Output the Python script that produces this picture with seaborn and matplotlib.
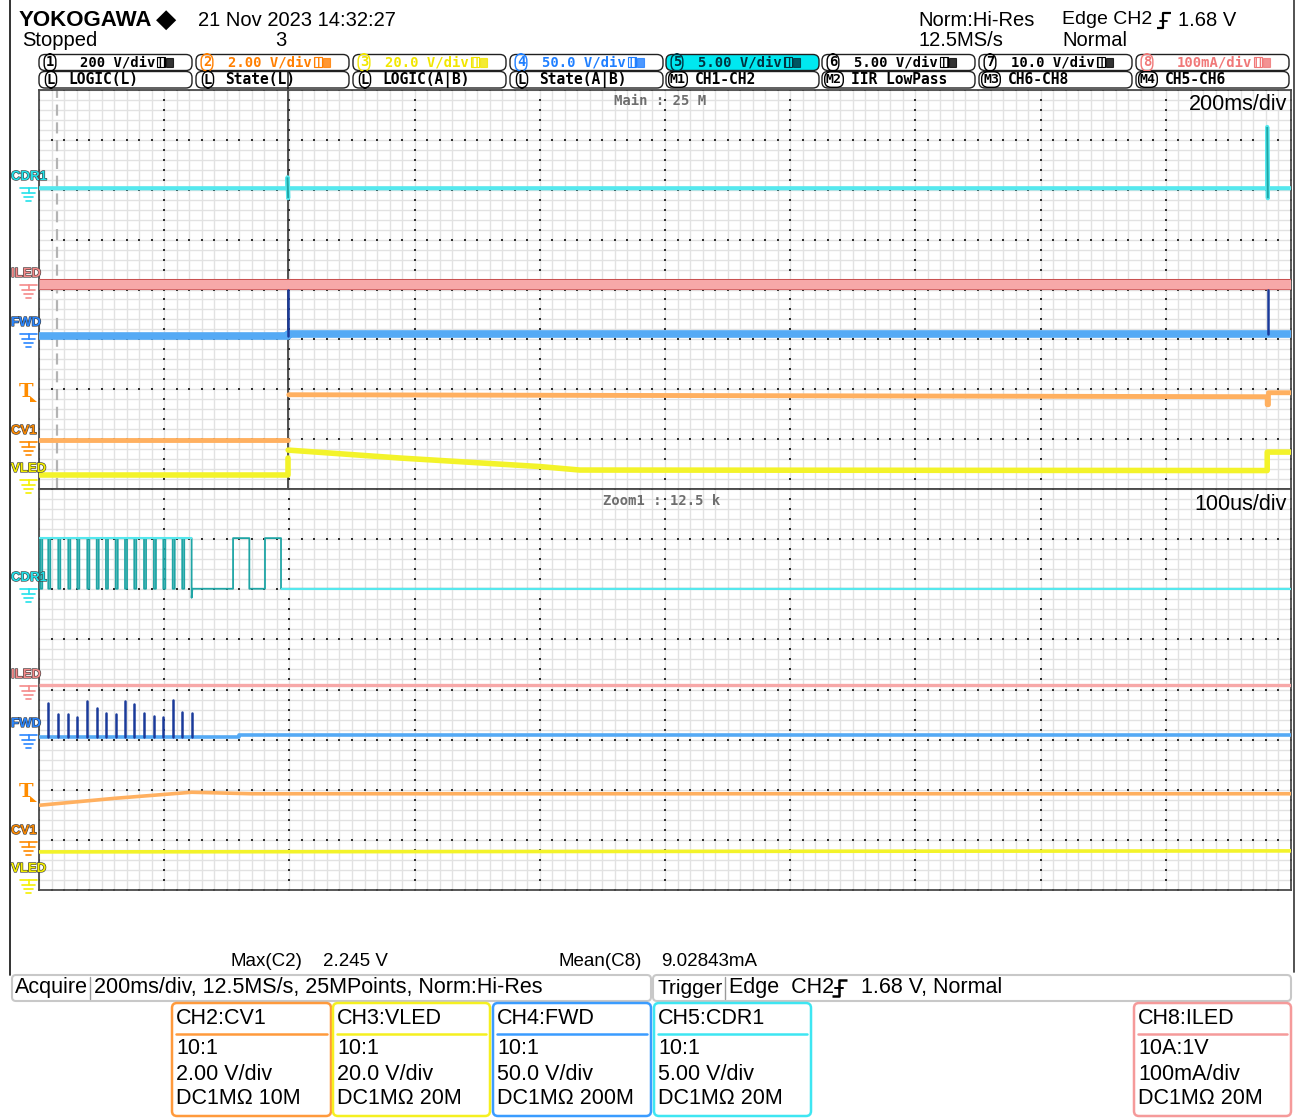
import numpy as np
import pandas as pd
import matplotlib
matplotlib.use("Agg")
import matplotlib.pyplot as plt
import matplotlib.patheffects as pe
from matplotlib.patches import FancyBboxPatch, Rectangle, Polygon
import seaborn as sns

sns.set_style("white")
plt.rcParams["font.family"] = ["Liberation Sans", "DejaVu Sans"]

W, H = 1297, 1118

# ---------------- data: time (ms / us) and vertical position (div) ----------------
# main window, 200 ms/div
main_cdr1_t = [0, 397, 397, 398, 398, 1962, 1962, 1963, 1963, 2000]
main_cdr1_v = [2.03, 2.03, 2.25, 1.83, 2.03, 2.03, 3.26, 1.83, 2.03, 2.03]
main_iled_t = [0, 2000]
main_iled_v = [0.12, 0.12]
main_fwd_t = [0, 398, 398, 2000]
main_fwd_v = [-0.94, -0.94, -0.90, -0.90]
main_fwd_edge_t = [398, 398, 1963, 1963]
main_fwd_edge_v = [-0.02, -0.94, -0.02, -0.90]
main_fwd_edge_seg = [0, 0, 1, 1]
main_cv1_t = [0, 397, 399, 1962, 1962, 1964, 1964, 2000]
main_cv1_v = [-3.02, -3.02, -2.11, -2.15, -2.31, -2.31, -2.07, -2.07]
main_cv1_seg = [0, 0, 1, 1, 1, 1, 1, 1]
main_vled_t = [0, 398, 398, 398, 578, 800, 864, 1962, 1962, 2000]
main_vled_v = [-3.72, -3.72, -3.38, -3.22, -3.38, -3.55, -3.62, -3.63, -3.26, -3.26]
main_vled_seg = [0, 0, 0, 1, 1, 1, 1, 1, 1, 1]
zoom_marker_ms = 29
trigger_ms = 398

# zoom window, 100 us/div
zoom_cdr1_high = 3.02
zoom_cdr1_low = 2.01
zoom_cdr1_dip_width = 1.6
zoom_cdr1_dips = [1.0, 7.4, 15.4, 23.4, 30.6, 38.6, 46.1, 53.5, 61.3, 68.7,
                  76.1, 83.9, 91.8, 99.3, 106.8, 114.4]
zoom_cdr1_fall = 121.9
zoom_cdr1_fall_min = 1.83
zoom_cdr1_pulses = [(155.0, 168.0), (180.5, 193.3)]
zoom_iled_t = [0, 1000]
zoom_iled_v = [0.09, 0.09]
zoom_fwd_t = [0, 160, 160, 1000]
zoom_fwd_v = [-0.95, -0.95, -0.91, -0.91]
zoom_fwd_spike_t = [7.4, 15.4, 23.4, 30.6, 38.6, 46.1, 53.5, 61.3, 68.7, 76.1,
                    83.9, 91.8, 99.3, 106.8, 114.4, 121.9]
zoom_fwd_spike_v = [-0.27, -0.49, -0.49, -0.55, -0.23, -0.37, -0.47, -0.49, -0.23,
                    -0.29, -0.47, -0.53, -0.55, -0.21, -0.45, -0.47]
zoom_cv1_t = [0, 61, 121.9, 170, 1000]
zoom_cv1_v = [-2.31, -2.17, -2.05, -2.08, -2.08]
zoom_vled_t = [0, 500, 1000]
zoom_vled_v = [-3.24, -3.23, -3.22]

# text content
badge_row1 = [("1", "200 V/div", "black"), ("2", "2.00 V/div", "#ff7f00"),
              ("3", "20.0 V/div", "#f2e600"), ("4", "50.0 V/div", "#1f7fff"),
              ("5", "5.00 V/div", "#00323f"), ("6", "5.00 V/div", "black"),
              ("7", "10.0 V/div", "black"), ("8", "100mA/div", "#f07878")]
badge_row2 = [("L", "LOGIC(L)"), ("L", "State(L)"), ("L", "LOGIC(A|B)"),
              ("L", "State(A|B)"), ("M1", "CH1-CH2"), ("M2", "IIR LowPass"),
              ("M3", "CH6-CH8"), ("M4", "CH5-CH6")]
ch_boxes = [("CH2:CV1", ["10:1", "2.00 V/div", "DC1M\u03a9 10M"], "#ff9a3c"),
            ("CH3:VLED", ["10:1", "20.0 V/div", "DC1M\u03a9 20M"], "#f5f020"),
            ("CH4:FWD", ["10:1", "50.0 V/div", "DC1M\u03a9 200M"], "#3a9cff"),
            ("CH5:CDR1", ["10:1", "5.00 V/div", "DC1M\u03a9 20M"], "#3ee6f2"),
            ("CH8:ILED", ["10A:1V", "100mA/div", "DC1M\u03a9 20M"], "#f59a9a")]

C_CDR1, C_CDR1_D = "#55e8ee", "#1fa5a5"
C_ILED, C_ILED_D = "#f7a8a8", "#c85050"
C_FWD, C_FWD_D = "#55aaf5", "#1a3a9a"
C_CV1 = "#ffb060"
C_VLED = "#f3f32a"

fig = plt.figure(figsize=(W / 100, H / 100), dpi=100)


def panel(y0, y1, xmax):
    ax = fig.add_axes([39 / W, 1 - y1 / H, (1291 - 39) / W, (y1 - y0) / H])
    ax.set_xlim(0, xmax)
    ax.set_ylim(-4, 4)
    ax.set_xticks([])
    ax.set_yticks([])
    ax.set_xticks(np.linspace(0, xmax, 101), minor=True)
    ax.set_yticks(np.linspace(-4, 4, 41), minor=True)
    ax.tick_params(which="both", length=0, labelbottom=False, labelleft=False)
    ax.grid(which="minor", color="#e2e2e2", lw=1)
    xm, ym = np.meshgrid(np.linspace(0, xmax, 11), np.linspace(-4, 4, 41))
    ax.scatter(xm.ravel(), ym.ravel(), s=1.6, marker="s", color="#303030", lw=0, zorder=1.5)
    xm, ym = np.meshgrid(np.linspace(0, xmax, 101), np.linspace(-4, 4, 9))
    ax.scatter(xm.ravel(), ym.ravel(), s=1.6, marker="s", color="#303030", lw=0, zorder=1.5)
    for s in ax.spines.values():
        s.set_color("#4a4a4a")
        s.set_linewidth(1.3)
    return ax


def trace(ax, t, v, color, lw, units=None, z=3):
    if units is None:
        sns.lineplot(x=t, y=v, ax=ax, color=color, linewidth=lw, estimator=None,
                     sort=False, legend=False, zorder=z, solid_capstyle="butt")
    else:
        df = pd.DataFrame({"t": t, "v": v, "u": units})
        sns.lineplot(data=df, x="t", y="v", units="u", ax=ax, color=color, linewidth=lw,
                     estimator=None, sort=False, legend=False, zorder=z)
    ax.set_xlabel("")
    ax.set_ylabel("")


# ---------------- main panel ----------------
ax_m = panel(90, 489, 2000)
ax_m.axvline(zoom_marker_ms, color="#b4b4b4", lw=1.6, ls=(0, (5, 3)), zorder=2)
ax_m.axvline(trigger_ms, ymin=0, ymax=1.045, color="#333333", lw=1.2, zorder=2, clip_on=False)
trace(ax_m, main_iled_t, main_iled_v, C_ILED, 8)
trace(ax_m, main_iled_t, [v + 0.1 for v in main_iled_v], C_ILED_D, 0.7)
trace(ax_m, main_iled_t, [v - 0.1 for v in main_iled_v], C_ILED_D, 0.5)
trace(ax_m, main_fwd_t, main_fwd_v, C_FWD, 5.5)
trace(ax_m, main_fwd_edge_t, main_fwd_edge_v, C_FWD_D, 1.8, units=main_fwd_edge_seg)
trace(ax_m, main_cdr1_t, main_cdr1_v, C_CDR1, 3)
trace(ax_m, main_cdr1_t[2:4], main_cdr1_v[2:4], C_CDR1_D, 1.4)
trace(ax_m, main_cdr1_t[6:8], main_cdr1_v[6:8], C_CDR1_D, 1.4)
trace(ax_m, main_cv1_t, main_cv1_v, C_CV1, 3.5, units=main_cv1_seg)
trace(ax_m, main_vled_t, main_vled_v, C_VLED, 4, units=main_vled_seg)

# ---------------- zoom panel ----------------
ax_z = panel(489, 890, 1000)
cdr_t, cdr_v = [0], [zoom_cdr1_high]
for d in zoom_cdr1_dips:
    cdr_t += [d, d, d + zoom_cdr1_dip_width, d + zoom_cdr1_dip_width]
    cdr_v += [zoom_cdr1_high, zoom_cdr1_low, zoom_cdr1_low, zoom_cdr1_high]
cdr_t += [zoom_cdr1_fall, zoom_cdr1_fall, zoom_cdr1_fall + 0.6]
cdr_v += [zoom_cdr1_high, zoom_cdr1_fall_min, zoom_cdr1_low]
for a, b in zoom_cdr1_pulses:
    cdr_t += [a, a, b, b]
    cdr_v += [zoom_cdr1_low, zoom_cdr1_high, zoom_cdr1_high, zoom_cdr1_low]
cdr_t += [1000]
cdr_v += [zoom_cdr1_low]
trace(ax_z, zoom_iled_t, zoom_iled_v, C_ILED, 2.4)
fwd_t, fwd_v, fwd_u = [], [], []
for i, (t, v) in enumerate(zip(zoom_fwd_spike_t, zoom_fwd_spike_v)):
    fwd_t += [t, t]
    fwd_v += [zoom_fwd_v[0], v]
    fwd_u += [i, i]
trace(ax_z, zoom_fwd_t, zoom_fwd_v, C_FWD, 2.6)
trace(ax_z, fwd_t, fwd_v, C_FWD_D, 1.8, units=fwd_u)
trace(ax_z, cdr_t, cdr_v, C_CDR1_D, 1.3)
trace(ax_z, [0, zoom_cdr1_fall], [zoom_cdr1_high] * 2, C_CDR1, 1.5)
trace(ax_z, [zoom_cdr1_pulses[-1][1], 1000], [zoom_cdr1_low] * 2, C_CDR1, 1.5)
trace(ax_z, zoom_cv1_t, zoom_cv1_v, C_CV1, 2.6)
trace(ax_z, zoom_vled_t, zoom_vled_v, C_VLED, 2.6)

# ---------------- overlay (pixel coordinates) ----------------
bg = fig.add_axes([0, 0, 1, 1], zorder=5)
bg.set_xlim(0, W)
bg.set_ylim(H, 0)
bg.axis("off")


def put(x, y, s, size, color="black", ha="left", va="center", **kw):
    bg.text(x, y, s, fontsize=size, color=color, ha=ha, va=va, **kw)


def rbox(x0, y0, x1, y1, ec, lw=1.2, fc="none", r=5):
    bg.add_patch(FancyBboxPatch((x0, y0), x1 - x0, y1 - y0,
                                boxstyle=f"round,pad=0,rounding_size={r}",
                                ec=ec, fc=fc, lw=lw))


def edge_sym(x, ytop, h, w, lw=1.6):
    bg.plot([x, x + w * 0.45, x + w * 0.45, x + w], [ytop + h, ytop + h, ytop, ytop],
            color="black", lw=lw, solid_capstyle="butt")
    bg.plot([x + w * 0.2, x + w * 0.7], [ytop + h * 0.5] * 2, color="black", lw=lw * 0.8)


# outer frame lines
bg.plot([10, 10], [0, 975], color="#222222", lw=1.3)
bg.plot([1294, 1294], [0, 972], color="#444444", lw=1.3)

# header
put(19, 21, "YOKOGAWA", 16, weight="bold")
put(156, 20, "\u25c6", 19, family="DejaVu Sans")
put(198, 20, "21 Nov 2023 14:32:27", 14.5)
put(22, 41, "Stopped", 14.5)
put(281, 41, "3", 14.5, ha="center")
put(918, 20, "Norm:Hi-Res", 14.5)
put(918, 41, "12.5MS/s", 14.5)
put(1062, 20, "Edge CH2", 14)
edge_sym(1157, 13, 15, 14)
put(1178, 20, "1.68 V", 14.5)
put(1062, 41, "Normal", 14.5)

# channel badges
mono = "DejaVu Sans Mono"
for i, x0 in enumerate([38, 195, 352, 509, 665, 821, 978, 1135]):
    num, txt, col = badge_row1[i]
    rbox(x0 + 1, 54.5, x0 + 154, 70.5, "#202020", lw=1.0,
         fc="#00e8f0" if num == "5" else "white", r=6)
    bg.text(x0 + 12, 62.5, num, fontsize=10, color=col, family=mono, weight="bold",
            ha="center", va="center",
            bbox=dict(boxstyle="round,pad=0.12,rounding_size=0.5", fc="none", ec=col, lw=1))
    put(x0 + 117, 62.5, txt, 10, color=col, ha="right", family=mono, weight="bold")
    bg.add_patch(Rectangle((x0 + 119, 57), 8, 10, fc="none", ec=col, lw=0.8, hatch="||||"))
    bg.add_patch(Rectangle((x0 + 128, 58), 7, 9, fc=col, ec=col, lw=0.8, alpha=0.8))
    lab, txt2 = badge_row2[i]
    rbox(x0 + 1, 71.5, x0 + 154, 88, "#202020", lw=1.0, r=6)
    bg.text(x0 + 13, 79.5, lab, fontsize=9.5 if len(lab) > 1 else 10, color="black",
            family=mono, weight="bold", ha="center", va="center",
            bbox=dict(boxstyle="round,pad=0.1,rounding_size=0.5", fc="none", ec="black", lw=1))
    put(x0 + 30, 79.5, txt2, 10.5, family=mono, weight="bold")

# panel captions
put(660, 101, "Main : 25 M", 10, color="#6e6e6e", ha="center", family=mono, weight="bold")
put(662, 501, "Zoom1 : 12.5 k", 10, color="#6e6e6e", ha="center", family=mono, weight="bold")
put(1287, 104, "200ms/div", 15.5, ha="right")
put(1287, 505, "100us/div", 15.5, ha="right")


def ground(y, color):
    for dy, a, b in [(0, 20, 37), (5, 22, 35), (9, 24, 33), (13, 26, 31)]:
        bg.plot([a, b], [y + dy, y + dy], color=color, lw=1.2)
    bg.plot([28.5, 28.5], [y, y + 5], color=color, lw=1.2)


outline = [pe.withStroke(linewidth=0.9, foreground="#404040")]
for off in (0, 400):
    for name, y, col in [("CDR1", 177, "#22e2ea"), ("ILED", 274, "#f58a8a"),
                         ("FWD", 323, "#2a86ff"), ("CV1", 431, "#ff8a00"),
                         ("VLED", 469, "#f5f000")]:
        yy = y + off + (1 if name in ("CDR1", "ILED", "FWD") and off else 0)
        put(11, yy, name, 9.5, color=col, weight="bold", path_effects=outline)
        ground(yy + 11, col)
    ty = 392 + off
    put(26, ty, "T", 14, color="#ff8c00", weight="bold", ha="center", family="DejaVu Serif")
    bg.add_patch(Polygon([(30, ty + 4), (30, ty + 10), (37, ty + 10)], closed=True,
                         fc="#ff8c00", ec="none"))

# measurements
put(230, 961, "Max(C2)", 13.5)
put(323, 961, "2.245 V", 13.5)
put(559, 961, "Mean(C8)", 13.5)
put(661, 961, "9.02843mA", 13.5)

# acquire / trigger bars
rbox(12, 975, 651, 1001, "#c8c8c8", lw=1.5, r=4)
rbox(653, 975, 1291, 1001, "#c8c8c8", lw=1.5, r=4)
bg.plot([90, 90], [977, 999], color="#9a9a9a", lw=1)
bg.plot([725, 725], [977, 999], color="#9a9a9a", lw=1)
put(15, 988, "Acquire", 15.5)
put(94, 988, "200ms/div, 12.5MS/s, 25MPoints, Norm:Hi-Res", 15.5)
put(657, 988, "Trigger", 15)
put(729, 988, "Edge  CH2", 15.5)
edge_sym(832, 980, 16, 15, lw=1.8)
put(861, 988, "1.68 V, Normal", 15.5)

# channel info boxes
for (head, lines, col), (x0, x1) in zip(ch_boxes, [(172, 331), (333, 490), (493, 651),
                                                   (654, 811), (1134, 1291)]):
    rbox(x0, 1003, x1, 1116, col, lw=1.8, r=5)
    bg.plot([x0 + 4, x1 - 4], [1034, 1034], color=col, lw=1.8)
    put(x0 + 4, 1019, head, 15.5)
    for k, s in enumerate(lines):
        put(x0 + 4, 1049 + 25 * k, s, 15.5)

fig.savefig("out.png", dpi=100)
